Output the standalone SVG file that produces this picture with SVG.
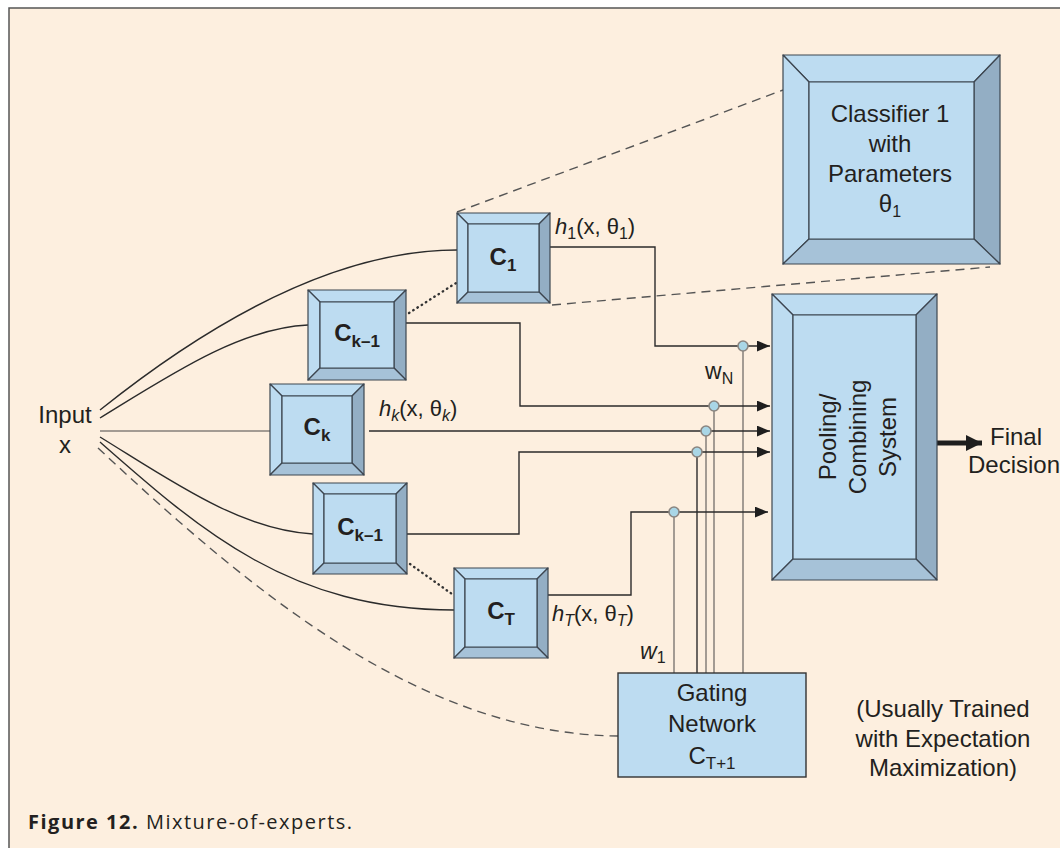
<svg xmlns="http://www.w3.org/2000/svg" width="1060" height="848" viewBox="0 0 1060 848">
<defs>
<style>
.lt{fill:#BDDCF1;stroke:#3d4650;stroke-width:1.2;stroke-linejoin:round}
.dk{fill:#93AEC4;stroke:#3d4650;stroke-width:1.2;stroke-linejoin:round}
.md{fill:#A6C2D8;stroke:#3d4650;stroke-width:1.2;stroke-linejoin:round}
.t{font-family:"Liberation Sans",Arial,sans-serif;fill:#231f20}
.lbl{font-size:24px;text-anchor:middle}
.bl{font-size:24px;font-weight:bold;text-anchor:middle}
.ln{fill:none;stroke:#2b2b2b;stroke-width:1.4}
.gr{fill:none;stroke:#a39b93;stroke-width:2}
.dash{fill:none;stroke:#555;stroke-width:1.4;stroke-dasharray:9 6}
.dot{fill:none;stroke:#333;stroke-width:2.4;stroke-dasharray:0.5 4.5;stroke-linecap:round}
.jn{fill:#A9D6E6;stroke:#8a8580;stroke-width:1.6}
</style>
<marker id="ah" viewBox="0 0 12 10" refX="12" refY="5" markerWidth="13" markerHeight="11" markerUnits="userSpaceOnUse" orient="auto">
<path d="M0,0 L12,5 L0,10 Z" fill="#1e1e1e"/>
</marker>
<marker id="ahb" viewBox="0 0 14 14" refX="14" refY="7" markerWidth="16" markerHeight="16" markerUnits="userSpaceOnUse" orient="auto">
<path d="M0,0 L14,7 L0,14 Z" fill="#1e1e1e"/>
</marker>
</defs>
<rect x="0" y="0" width="1060" height="848" fill="#ffffff"/>
<rect x="9" y="8" width="1060" height="850" fill="#FDEFDF" stroke="#555" stroke-width="1.5"/>

<g id="connectors">
<path class="ln" d="M100,410 C200,330 330,250 457,250"/>
<path class="ln" d="M100,418 C170,375 240,328 308,325"/>
<path class="gr" d="M100,431 L270,431" stroke-width="1.6"/>
<path class="ln" d="M100,437 C170,480 240,530 313,534"/>
<path class="ln" d="M100,442 C200,530 290,610 454,610"/>
<path class="dash" d="M98,448 C250,590 420,734 618,736"/>
<path class="dash" d="M457,212 L783,90"/>
<path class="dash" d="M552,305 L990,267"/>
<path class="dot" d="M409,313 L456,283"/>
<path class="dot" d="M410,564 L452,594"/>
<path class="gr" d="M674,512 V673"/>
<path class="ln" d="M697,452 V673"/>
<path class="gr" d="M706,431 V673"/>
<path class="gr" d="M714,406 V673"/>
<path class="gr" d="M743,346 V673"/>
<path class="ln" d="M550,247 H655 V346 H770" marker-end="url(#ah)"/>
<path class="ln" d="M406,323 H520 V406 H770" marker-end="url(#ah)"/>
<path class="ln" d="M369,431 H770" marker-end="url(#ah)"/>
<path class="ln" d="M407,534 H519 V452 H770" marker-end="url(#ah)"/>
<path class="ln" d="M548,595 H631 V512 H768" marker-end="url(#ah)"/>
<path d="M937,443 H982" stroke="#1e1e1e" stroke-width="5" fill="none" marker-end="url(#ahb)"/>
<circle class="jn" cx="743" cy="346" r="5"/>
<circle class="jn" cx="714" cy="406" r="5"/>
<circle class="jn" cx="706" cy="431" r="5"/>
<circle class="jn" cx="697" cy="452" r="5"/>
<circle class="jn" cx="674" cy="512" r="5"/>
</g>

<g id="c1">
<polygon class="lt" points="457,213 550,213 539,224 468,224"/>
<polygon class="lt" points="457,213 468,224 468,292 457,303"/>
<polygon class="dk" points="550,213 550,303 539,292 539,224"/>
<polygon class="md" points="457,303 550,303 539,292 468,292"/>
<rect class="lt" x="468" y="224" width="71" height="68"/>
<text class="t bl" x="503" y="265">C<tspan font-size="17" dy="6">1</tspan></text>
</g>

<g id="ck1a">
<polygon class="lt" points="308,290 406,290 394,302 320,302"/>
<polygon class="lt" points="308,290 320,302 320,368 308,380"/>
<polygon class="dk" points="406,290 406,380 394,368 394,302"/>
<polygon class="md" points="308,380 406,380 394,368 320,368"/>
<rect class="lt" x="320" y="302" width="74" height="66"/>
<text class="t bl" x="357" y="341">C<tspan font-size="17" dy="6">k–1</tspan></text>
</g>

<g id="ck">
<polygon class="lt" points="270,384 364,384 352,396 282,396"/>
<polygon class="lt" points="270,384 282,396 282,463 270,475"/>
<polygon class="dk" points="364,384 364,475 352,463 352,396"/>
<polygon class="md" points="270,475 364,475 352,463 282,463"/>
<rect class="lt" x="282" y="396" width="70" height="67"/>
<text class="t bl" x="317" y="435">C<tspan font-size="17" dy="6">k</tspan></text>
</g>

<g id="ck1b">
<polygon class="lt" points="313,483 407,483 396,494 324,494"/>
<polygon class="lt" points="313,483 324,494 324,563 313,574"/>
<polygon class="dk" points="407,483 407,574 396,563 396,494"/>
<polygon class="md" points="313,574 407,574 396,563 324,563"/>
<rect class="lt" x="324" y="494" width="72" height="69"/>
<text class="t bl" x="360" y="535">C<tspan font-size="17" dy="6">k–1</tspan></text>
</g>

<g id="ct">
<polygon class="lt" points="454,568 548,568 537,579 465,579"/>
<polygon class="lt" points="454,568 465,579 465,647 454,658"/>
<polygon class="dk" points="548,568 548,658 537,647 537,579"/>
<polygon class="md" points="454,658 548,658 537,647 465,647"/>
<rect class="lt" x="465" y="579" width="72" height="68"/>
<text class="t bl" x="501" y="619">C<tspan font-size="17" dy="6">T</tspan></text>
</g>

<g id="classifier">
<polygon class="lt" points="783,55 1000,55 974,82 809,82"/>
<polygon class="lt" points="783,55 809,82 809,239 783,264"/>
<polygon class="dk" points="1000,55 1000,264 974,239 974,82"/>
<polygon class="md" points="783,264 1000,264 974,239 809,239"/>
<rect class="lt" x="809" y="82" width="165" height="157"/>
<text class="t lbl" x="890" y="122">Classifier 1</text>
<text class="t lbl" x="890" y="152">with</text>
<text class="t lbl" x="890" y="182">Parameters</text>
<text class="t lbl" x="890" y="212">θ<tspan font-size="16" dy="5">1</tspan></text>
</g>

<g id="pooling">
<polygon class="lt" points="772,294 937,294 916,315 793,315"/>
<polygon class="lt" points="772,294 793,315 793,559 772,580"/>
<polygon class="dk" points="937,294 937,580 916,559 916,315"/>
<polygon class="md" points="772,580 937,580 916,559 793,559"/>
<rect class="lt" x="793" y="315" width="123" height="244"/>
<g transform="translate(0,437) rotate(-90)">
<text class="t lbl" x="0" y="836">Pooling/</text>
<text class="t lbl" x="0" y="866">Combining</text>
<text class="t lbl" x="0" y="896">System</text>
</g>
</g>

<g id="gating">
<rect x="618" y="673" width="188" height="104" fill="#BDDCF1" stroke="#333" stroke-width="1.4"/>
<text class="t lbl" x="712" y="701">Gating</text>
<text class="t lbl" x="712" y="732">Network</text>
<text class="t lbl" x="712" y="764">C<tspan font-size="17" dy="5">T+1</tspan></text>
</g>

<g id="labels">
<text class="t lbl" x="65" y="423">Input</text>
<text class="t lbl" x="65" y="453">x</text>
<text class="t" font-size="22" x="555" y="234"><tspan font-style="italic">h</tspan><tspan font-size="16" dy="5">1</tspan><tspan dy="-5">(x, θ</tspan><tspan font-size="16" dy="5">1</tspan><tspan dy="-5">)</tspan></text>
<text class="t" font-size="22" x="379" y="416"><tspan font-style="italic">h</tspan><tspan font-size="16" dy="5" font-style="italic">k</tspan><tspan dy="-5">(x, θ</tspan><tspan font-size="16" dy="5" font-style="italic">k</tspan><tspan dy="-5">)</tspan></text>
<text class="t" font-size="22" x="552" y="621"><tspan font-style="italic">h</tspan><tspan font-size="16" dy="5" font-style="italic">T</tspan><tspan dy="-5">(x, θ</tspan><tspan font-size="16" dy="5" font-style="italic">T</tspan><tspan dy="-5">)</tspan></text>
<text class="t" font-size="23" x="640" y="659"><tspan font-style="italic">w</tspan><tspan font-size="16" dy="4">1</tspan></text>
<text class="t" font-size="23" x="705" y="379">w<tspan font-size="16" dy="5">N</tspan></text>
<text class="t" font-size="24" x="990" y="445">Final</text>
<text class="t" font-size="24" x="968" y="473">Decision</text>
<text class="t lbl" x="943" y="717">(Usually Trained</text>
<text class="t lbl" x="943" y="747">with Expectation</text>
<text class="t lbl" x="943" y="776">Maximization)</text>
<text x="28" y="829" font-family="'Open Sans','Noto Sans',sans-serif" font-size="20" letter-spacing="1.5" fill="#231f20"><tspan font-weight="700">Figure 12.</tspan> Mixture-of-experts.</text>
</g>
</svg>
